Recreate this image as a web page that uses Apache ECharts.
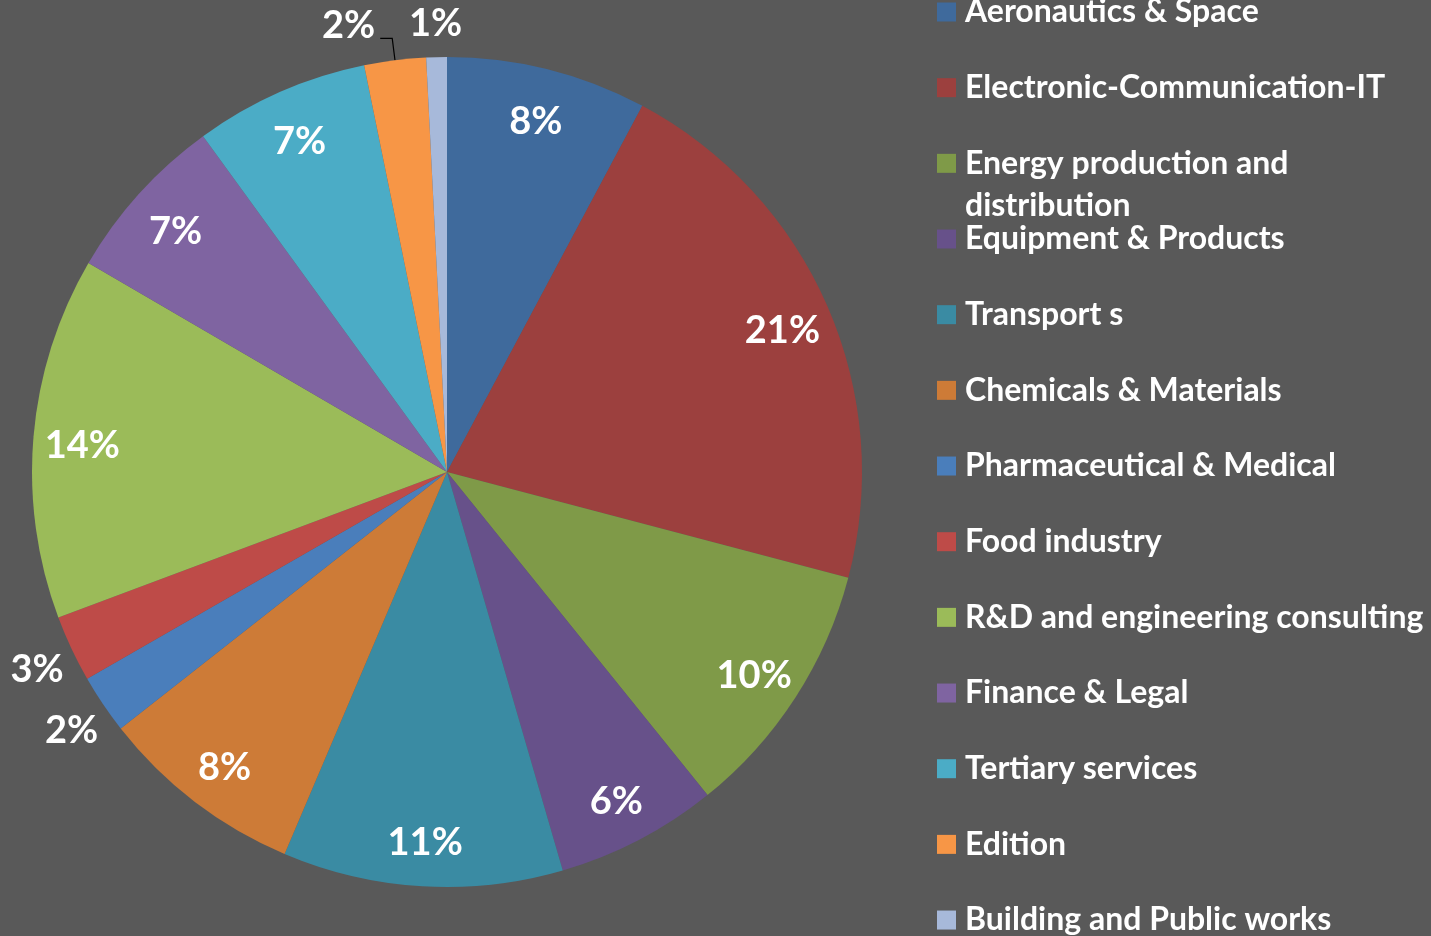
<!DOCTYPE html>
<html>
<head>
<meta charset="utf-8">
<script src="https://cdn.jsdelivr.net/npm/echarts@6/dist/echarts.min.js"></script>
<style>
  html, body { margin: 0; padding: 0; background: #595959; }
  #chart { width: 1431px; height: 936px; }
</style>
</head>
<body>
<div id="chart"></div>
<script>
// sectors, clockwise from 12 o'clock
const sectors = ['Aeronautics & Space', 'Electronic-Communication-IT', 'Energy production and distribution',
  'Equipment & Products', 'Transport s', 'Chemicals & Materials', 'Pharmaceutical & Medical', 'Food industry',
  'R&D and engineering consulting', 'Finance & Legal', 'Tertiary services', 'Edition', 'Building and Public works']
const shares = [7.8, 21.3, 10.1, 6.3, 10.9, 8.0, 2.3, 2.6, 14.1, 6.6, 6.8, 2.4, 0.8]
const colors = ['#3F6A9C', '#9C403E', '#7F9A48', '#67518A', '#3A8BA3', '#CD7B37', '#4A7EBB',
  '#BE4B48', '#9BBB59', '#7F64A1', '#4BACC6', '#F79646', '#A7B9DA']
// slices whose label sits outside the pie
const outsideLabels = ['Pharmaceutical & Medical', 'Food industry', 'Building and Public works']
const leaderLabel = 'Edition'
const wrapped = 'Energy production and distribution'

const font = 'Lato'
const center = [447, 472]
const R = 415
const pct = p => Math.round(p.percent) + '%'
const labelText = {color: '#fff', fontFamily: font, fontWeight: 'bold', fontSize: 38}
// digits sit high in the text box, nudge them down a little
const nudge = () => ({dy: 5})

// legend rows: fixed pitch, the wrapped entry gets its own block
const rowPitch = 75.67
const rowH = 42
const legendTop = 12 - rowH / 2
const wrapAt = sectors.indexOf(wrapped)

const chart = echarts.init(document.getElementById('chart'))

const base = {
  type: 'pie',
  center: center,
  startAngle: 90,
  clockwise: true,
  avoidLabelOverlap: false,
  animation: false,
  emphasis: {disabled: true},
  labelLine: {show: false}
}

const legendBase = {
  orient: 'vertical',
  left: 937,
  padding: 0,
  height: 1000,
  itemWidth: 19,
  itemHeight: 19,
  itemGap: rowPitch - rowH,
  icon: 'rect',
  selectedMode: false,
  textStyle: {color: '#fff', fontFamily: font, fontWeight: 'bold', fontSize: 32, lineHeight: rowH, padding: [0, 0, 0, 4]}
}

chart.setOption({
  backgroundColor: '#595959',
  legend: [
    Object.assign({}, legendBase, {top: legendTop, data: sectors.slice(0, wrapAt)}),
    // empty first line so the icon sits on "Energy production and"
    Object.assign({}, legendBase, {
      top: legendTop + wrapAt * rowPitch - rowH,
      data: [wrapped],
      formatter: () => '\nEnergy production and\ndistribution'
    }),
    Object.assign({}, legendBase, {top: legendTop + (wrapAt + 1) * rowPitch, data: sectors.slice(wrapAt + 1)})
  ],
  series: [
    Object.assign({}, base, {
      name: 'main',
      radius: R,
      labelLayout: p => sectors[p.dataIndex] === leaderLabel ? {dy: -13} : {},
      data: sectors.map((name, i) => ({
        name: name,
        value: shares[i],
        itemStyle: {color: colors[i]},
        label: name === leaderLabel
          ? Object.assign({show: true, position: 'outside', formatter: pct}, labelText)
          : {show: false},
        labelLine: name === leaderLabel
          ? {show: true, length: 22, length2: 12, smooth: false, lineStyle: {color: '#000', width: 1.2}}
          : {show: false}
      }))
    }),
    Object.assign({}, base, {
      name: 'inner labels',
      radius: [311, R],
      silent: true,
      labelLayout: nudge,
      data: sectors.map((name, i) => ({
        name: name,
        value: shares[i],
        itemStyle: {color: 'transparent'},
        label: Object.assign({show: outsideLabels.indexOf(name) < 0 && name !== leaderLabel,
          position: 'inside', formatter: pct}, labelText)
      }))
    }),
    Object.assign({}, base, {
      name: 'outer labels',
      radius: [430, 470],
      silent: true,
      labelLayout: nudge,
      data: sectors.map((name, i) => ({
        name: name,
        value: shares[i],
        itemStyle: {color: 'transparent'},
        label: Object.assign({show: outsideLabels.indexOf(name) >= 0,
          position: 'inside', formatter: pct}, labelText)
      }))
    })
  ]
})
</script>
</body>
</html>
